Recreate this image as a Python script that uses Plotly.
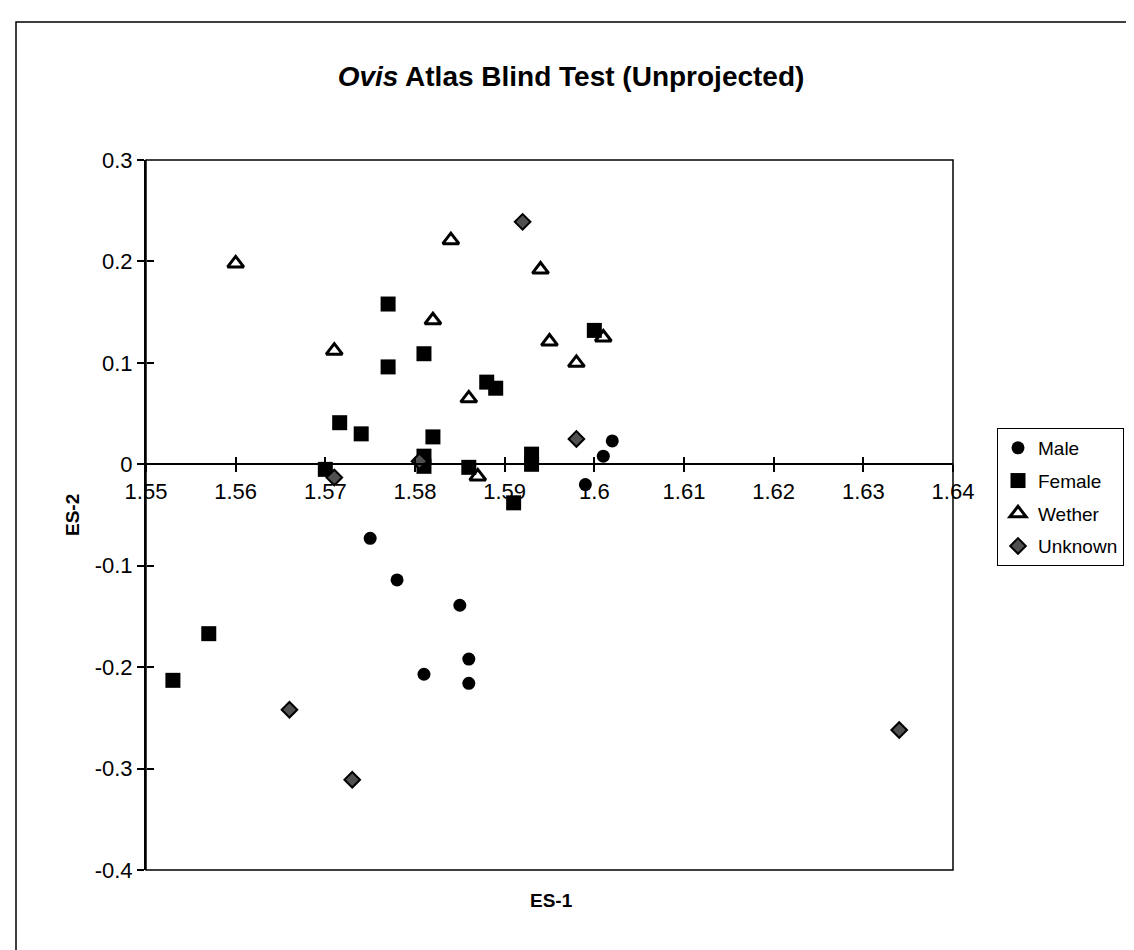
import plotly.graph_objects as go

# ---- data ----
male_x = [1.575, 1.578, 1.585, 1.586, 1.581, 1.586, 1.599, 1.601, 1.602]
male_y = [-0.073, -0.114, -0.139, -0.192, -0.207, -0.216, -0.020, 0.008, 0.023]

female_x = [1.553, 1.557, 1.570, 1.5716, 1.574, 1.577, 1.577, 1.581, 1.581,
            1.581, 1.582, 1.586, 1.588, 1.589, 1.591, 1.593, 1.593, 1.600]
female_y = [-0.213, -0.167, -0.005, 0.041, 0.030, 0.158, 0.096, 0.109, 0.008,
            -0.002, 0.027, -0.003, 0.081, 0.075, -0.038, 0.010, 0.000, 0.132]

wether_x = [1.560, 1.571, 1.582, 1.584, 1.586, 1.587, 1.594, 1.595, 1.598, 1.601]
wether_y = [0.198, 0.112, 0.142, 0.221, 0.065, -0.012, 0.192, 0.121, 0.100, 0.125]

unknown_x = [1.566, 1.573, 1.571, 1.5805, 1.592, 1.598, 1.634]
unknown_y = [-0.242, -0.311, -0.013, 0.003, 0.239, 0.025, -0.262]

x_ticks = [1.55, 1.56, 1.57, 1.58, 1.59, 1.60, 1.61, 1.62, 1.63, 1.64]
x_tick_labels = ['1.55', '1.56', '1.57', '1.58', '1.59', '1.6', '1.61', '1.62', '1.63', '1.64']
y_ticks = [-0.4, -0.3, -0.2, -0.1, 0.0, 0.1, 0.2, 0.3]
y_tick_labels = ['-0.4', '-0.3', '-0.2', '-0.1', '0', '0.1', '0.2', '0.3']

# ---- page geometry (pixels) ----
W, H = 1134, 950
left, right, top, bottom = 138, 945, 152, 862
pw, ph = right - left, bottom - top


def px_x(x):
    return (x - left) / pw


def px_y(y):
    return (bottom - y) / ph


x_range = [1.55, 1.64]
y_range = [-0.4, 0.3]
zero_pos = (0 - y_range[0]) / (y_range[1] - y_range[0])

FONT = 'Arial, Liberation Sans, sans-serif'

fig = go.Figure()

fig.add_trace(go.Scatter(x=male_x, y=male_y, mode='markers', name='Male',
                         legendgroup='m',
                         marker=dict(symbol='circle', size=13, color='black')))
fig.add_trace(go.Scatter(x=female_x, y=female_y, mode='markers', name='Female',
                         legendgroup='f',
                         marker=dict(symbol='square', size=15, color='black')))
fig.add_trace(go.Scatter(x=wether_x, y=wether_y, mode='markers', name='Wether',
                         legendgroup='w',
                         marker=dict(symbol='triangle-up-open', size=14, color='black',
                                     line=dict(width=3, color='black'))))
fig.add_trace(go.Scatter(x=unknown_x, y=unknown_y, mode='markers', name='Unknown',
                         legendgroup='u',
                         marker=dict(symbol='diamond', size=12, color='#505050',
                                     line=dict(width=2, color='black'))))
# empty trace so the overlay axes (inner half of the cross ticks) get drawn
fig.add_trace(go.Scatter(x=[], y=[], xaxis='x2', yaxis='y2', showlegend=False))

fig.update_layout(
    width=W, height=H, autosize=False,
    margin=dict(l=left, r=W - right, t=top, b=H - bottom, pad=0),
    paper_bgcolor='white', plot_bgcolor='white',
    font=dict(family=FONT, size=22, color='black'),
    title=dict(text='<b><i>Ovis</i> Atlas Blind Test (Unprojected)</b>',
               font=dict(size=28, family=FONT, color='black'),
               x=px_x(563), xref='paper', xanchor='center',
               y=1 - 68 / H, yref='container', yanchor='middle'),
    xaxis=dict(range=x_range, tickvals=x_ticks, ticktext=x_tick_labels,
               showgrid=False, zeroline=False, showline=True, linecolor='black',
               linewidth=1.5, ticks='outside', ticklen=7, tickwidth=1.5,
               tickcolor='black', anchor='free', position=zero_pos,
               ticklabelstandoff=1, tickfont=dict(size=22)),
    yaxis=dict(range=y_range, tickvals=y_ticks, ticktext=y_tick_labels,
               showgrid=False, zeroline=False, showline=True, linecolor='black',
               linewidth=2, ticks='outside', ticklen=7, tickwidth=1.5,
               tickcolor='black', tickfont=dict(size=22)),
    xaxis2=dict(range=x_range, tickvals=x_ticks, showticklabels=False,
                overlaying='x', anchor='free', position=zero_pos,
                showgrid=False, zeroline=False, showline=False,
                ticks='inside', ticklen=7, tickwidth=1.5, tickcolor='black'),
    yaxis2=dict(range=y_range, tickvals=y_ticks, showticklabels=False,
                overlaying='y', anchor='free', position=0,
                showgrid=False, zeroline=False, showline=False,
                ticks='inside', ticklen=7, tickwidth=1.5, tickcolor='black'),
    legend=dict(x=px_x(989), y=px_y(420), xanchor='left', yanchor='top',
                bordercolor='black', borderwidth=1, bgcolor='white',
                font=dict(size=19, family=FONT), tracegroupgap=5,
                itemwidth=30),
    showlegend=True,
)

# plot-area frame and the outer chart border
fig.add_shape(type='rect', xref='paper', yref='paper', x0=0, x1=1, y0=0, y1=1,
              line=dict(color='black', width=1.5), layer='below')
fig.add_shape(type='rect', xref='paper', yref='paper',
              x0=px_x(8), x1=px_x(1130), y0=px_y(944), y1=px_y(14),
              line=dict(color='black', width=1.5), layer='below')

fig.add_annotation(text='<b>ES-1</b>', xref='paper', yref='paper',
                   x=px_x(543), y=px_y(892), xanchor='center', yanchor='middle',
                   showarrow=False, font=dict(size=19, family=FONT))
fig.add_annotation(text='<b>ES-2</b>', xref='paper', yref='paper',
                   x=px_x(64), y=px_y(507), xanchor='center', yanchor='middle',
                   showarrow=False, textangle=-90,
                   font=dict(size=19, family=FONT))

fig.write_html('out.html')
